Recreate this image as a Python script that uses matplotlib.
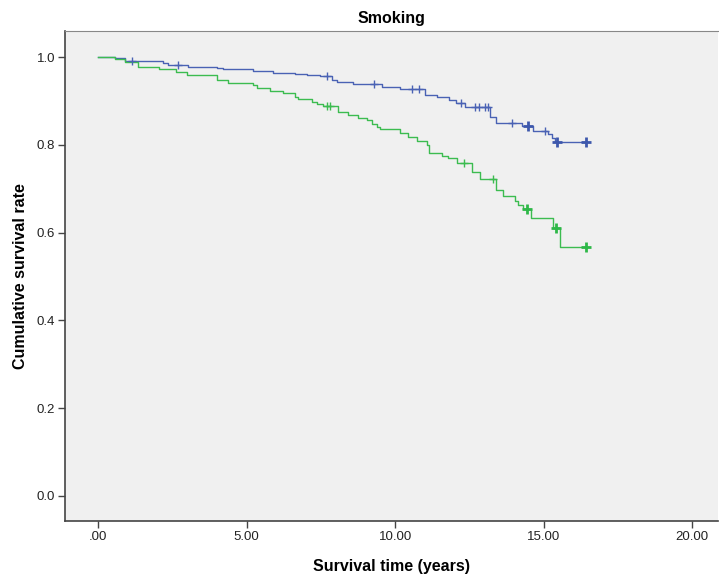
import matplotlib.pyplot as plt

# ── Data ──────────────────────────────────────────────────────────────────────
blue_time = [0, 0.56, 0.90, 2.18, 2.35, 3.02, 3.99, 4.19, 5.22, 5.89, 6.62, 7.02,
             7.46, 7.86, 8.03, 8.58, 9.54, 10.16, 11.00, 11.40, 11.80, 12.05,
             12.35, 13.19, 13.41, 14.26, 14.65, 15.15, 15.27, 15.38, 16.44]
blue_surv = [1.0, 0.998, 0.992, 0.986, 0.982, 0.977, 0.975, 0.973, 0.969, 0.965,
             0.962, 0.960, 0.957, 0.948, 0.944, 0.940, 0.933, 0.927, 0.914, 0.910,
             0.902, 0.896, 0.886, 0.864, 0.851, 0.844, 0.833, 0.825, 0.815, 0.806,
             0.806]
blue_cens = [1.12, 2.68, 7.69, 9.28, 10.57, 10.81, 12.22, 12.68, 12.81, 13.02,
             13.12, 13.93, 15.04]
blue_cens_big = [14.46, 15.45, 16.44]

green_time = [0, 0.56, 0.90, 1.34, 2.04, 2.62, 3.00, 3.99, 4.36, 5.22, 5.35, 5.78,
              6.23, 6.62, 6.73, 7.19, 7.35, 7.58, 8.08, 8.42, 8.75, 9.04, 9.21,
              9.37, 9.48, 10.16, 10.43, 10.72, 11.06, 11.14, 11.56, 11.78, 12.07,
              12.57, 12.85, 13.41, 13.64, 14.03, 14.14, 14.31, 14.56, 15.30, 15.55,
              16.44]
green_surv = [1.0, 0.996, 0.990, 0.978, 0.973, 0.967, 0.960, 0.949, 0.942, 0.937,
              0.929, 0.924, 0.918, 0.910, 0.906, 0.899, 0.894, 0.889, 0.876, 0.868,
              0.862, 0.857, 0.849, 0.842, 0.837, 0.827, 0.819, 0.808, 0.800, 0.782,
              0.776, 0.770, 0.760, 0.739, 0.722, 0.697, 0.684, 0.673, 0.663, 0.653,
              0.633, 0.610, 0.567, 0.567]
green_cens = [7.70, 7.80, 12.31, 13.28]
green_cens_big = [14.44, 15.43, 16.44]

xticks = [0, 5, 10, 15, 20]
xtick_labels = ['.00', '5.00', '10.00', '15.00', '20.00']
yticks = [0.0, 0.2, 0.4, 0.6, 0.8, 1.0]


def surv_at(times, surv, t):
    val = surv[0]
    for ti, si in zip(times, surv):
        if ti <= t:
            val = si
    return val


# ── Plot ──────────────────────────────────────────────────────────────────────
plt.rcParams['font.family'] = ['Liberation Sans', 'DejaVu Sans']

fig = plt.figure(figsize=(7.19, 5.85), dpi=100)
ax = fig.add_axes([65 / 719, 64 / 585, 653 / 719, 490 / 585])
ax.set_facecolor('#f0f0f0')

blue = '#4a62b4'
green = '#3cbc50'

ax.step(blue_time, blue_surv, where='post', color=blue, lw=1.0)
ax.step(green_time, green_surv, where='post', color=green, lw=1.0)

ax.plot(blue_cens, [surv_at(blue_time, blue_surv, t) for t in blue_cens],
        ls='none', marker='+', ms=6, mew=1.0, color=blue)
ax.plot(blue_cens_big, [surv_at(blue_time, blue_surv, t) for t in blue_cens_big],
        ls='none', marker='+', ms=7.5, mew=2.0, color='#3e58ac')
ax.plot(green_cens, [surv_at(green_time, green_surv, t) for t in green_cens],
        ls='none', marker='+', ms=6, mew=1.0, color=green)
ax.plot(green_cens_big, [surv_at(green_time, green_surv, t) for t in green_cens_big],
        ls='none', marker='+', ms=7.5, mew=2.0, color='#2eb848')

ax.set_xlim(-1.12, 20.87)
ax.set_ylim(-0.0577, 1.06)
ax.set_xticks(xticks)
ax.set_xticklabels(xtick_labels)
ax.set_yticks(yticks)
ax.set_yticklabels([f'{v:.1f}' for v in yticks])
ax.tick_params(direction='out', length=5, width=1, color='#444444',
               labelsize=9.5, labelcolor='#222222', pad=2)

for side in ['left', 'bottom']:
    ax.spines[side].set_color('#444444')
    ax.spines[side].set_linewidth(1.2)
ax.spines['top'].set_color('#888888')
ax.spines['right'].set_visible(False)

ax.set_title('Smoking', fontsize=11.5, fontweight='bold', pad=6)
ax.set_xlabel('Survival time (years)', fontsize=11.5, fontweight='bold', labelpad=12)
ax.set_ylabel('Cumulative survival rate', fontsize=11.5, fontweight='bold', labelpad=6)

fig.savefig('out.png', dpi=100)
